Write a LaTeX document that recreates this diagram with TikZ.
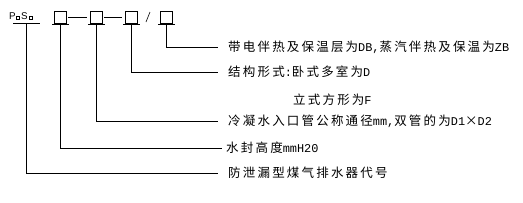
\documentclass[tikz,border=0pt]{standalone}
\usepackage{fontspec}
\newfontfamily\cjkfont[LetterSpace=17.5]{Noto Sans CJK SC}
\newfontfamily\latfont{Liberation Mono}
\newfontfamily\hdfont{Liberation Sans}
\newcommand\lat[1]{{\latfont\fontsize{11.9}{12}\selectfont #1}}
\tikzset{
  lbl/.style={anchor=west, inner xsep=10pt, inner ysep=0pt, font=\cjkfont\fontsize{12.5}{13}\selectfont},
  slot/.style={draw, minimum width=12pt, minimum height=12pt, inner sep=0pt, line width=0.9pt},
  tiny/.style={draw, minimum width=3.2pt, minimum height=3.2pt, inner sep=0pt, line width=0.6pt},
  hd/.style={anchor=base, inner sep=0pt, font=\hdfont\fontsize{9.8}{10}\selectfont},
  wire/.style={line width=0.9pt},
}
\begin{document}
\begin{tikzpicture}[x=1pt,y=-1pt]
\useasboundingbox (0,0) rectangle (523,202);
% header P.S.
\node[hd] (P) at (12.4,19.3) {P};
\node[tiny] (sq1) at (18,17.6) {};
\node[hd] (S) at (24.5,19.3) {S};
\node[tiny] (sq2) at (30.4,17.6) {};
\coordinate (psL) at (13,23.5);
\coordinate (psR) at (40,23.5);
\coordinate (psM) at (26.5,23.5);
\draw[wire] (psL) -- (psR);
% slots
\node[slot] (b1) at (60.5,17.5) {};
\node[slot] (b2) at (96.5,17.5) {};
\node[slot] (b3) at (131.5,17.5) {};
\node[slot] (b4) at (166.5,17.5) {};
\foreach \b in {b1,b2,b3,b4}{
  \draw[wire] ([xshift=-2pt]\b.south west) -- ([xshift=2pt]\b.south east);
}
\draw[wire, shorten <=1.5pt, shorten >=3pt] (b1.east) -- (b2.west);
\draw[wire, shorten <=1.5pt, shorten >=3pt] (b2.east) -- (b3.west);
\coordinate (sl1) at (146,22);
\coordinate (sl2) at (150,12);
\draw[line width=0.6pt] (sl1) -- (sl2);
% labels
\node[lbl] (t1) at (218,47) {带电伴热及保温层为\lat{DB,}蒸汽伴热及保温为\lat{ZB}};
\node[lbl] (t2) at (218,72) {结构形式\lat{:}卧式多室为\lat{D}};
\node[lbl, inner xsep=0pt] (t2b) at (293,100) {立式方形为\lat{F}};
\node[lbl] (t3) at (218,121) {冷凝水入口管公称通径\lat{mm,}双管的为\lat{D1}×\lat{D2}};
\node[lbl, inner xsep=4pt] (t4) at (222,148) {水封高度\lat{mmH20}};
\node[lbl] (t5) at (218,173) {防泄漏型煤气排水器代号};
% connectors
\draw[wire] (b4.south) |- (t1.west);
\draw[wire] (b3.south) |- (t2.west);
\draw[wire] (b2.south) |- (t3.west);
\draw[wire] (b1.south) |- (t4.west);
\draw[wire] (psM) |- (t5.west);
\end{tikzpicture}
\end{document}
